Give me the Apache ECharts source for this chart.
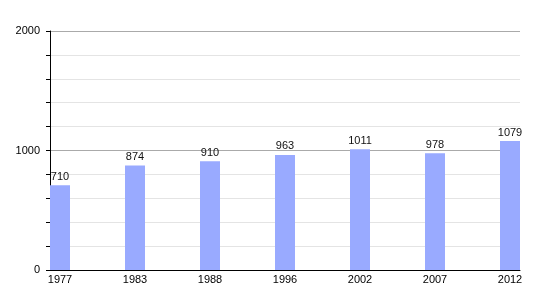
<!DOCTYPE html>
<html><head><meta charset="utf-8">
<script src="https://cdn.jsdelivr.net/npm/echarts@6/dist/echarts.min.js"></script>
<style>html,body{margin:0;padding:0;background:#fff}#c{width:550px;height:300px}</style>
</head><body><div id="c"></div>
<script>
const years = ['1977','1983','1988','1996','2002','2007','2012'];
const population = [710, 874, 910, 963, 1011, 978, 1079];
const yTickLabels = ['0','1000','2000'];

const chart = echarts.init(document.getElementById('c'), null, {renderer:'canvas'});
const font = 'Liberation Sans, Arial, sans-serif';
chart.setOption({
  animation:false,
  grid:{left:50, right:30, top:31, bottom:30},
  xAxis:{
    type:'value', min:-10/75, max:6+10/75,
    axisLine:{show:true, onZero:false, lineStyle:{color:'#000', width:1}},
    axisTick:{show:false},
    splitLine:{show:false},
    axisLabel:{customValues:years.map((_,i)=>i), formatter:v=>years[Math.round(v)], color:'#000', fontFamily:font, fontSize:11, margin:4}
  },
  yAxis:{
    type:'value', min:0, max:2000, interval:200,
    axisLine:{show:true, onZero:false, lineStyle:{color:'#000', width:1}},
    axisTick:{show:true, length:4, inside:false, lineStyle:{color:'#000'}},
    axisLabel:{color:'#000', fontFamily:font, fontSize:11, margin:10,
      formatter:v=> yTickLabels.includes(String(v)) ? String(v) : ''},
    splitLine:{show:true, lineStyle:{color:['#aaaaaa','#e4e4e4','#e4e4e4','#e4e4e4','#e4e4e4'], width:1}}
  },
  series:[{
    type:'bar', barWidth:20,
    data: population.map((v,i)=>[i,v]),
    itemStyle:{color:'#99aaff'},
    label:{show:true, position:'top', distance:3, color:'#111', fontFamily:font, fontSize:11, formatter:p=>p.value[1]}
  }]
});
</script></body></html>
